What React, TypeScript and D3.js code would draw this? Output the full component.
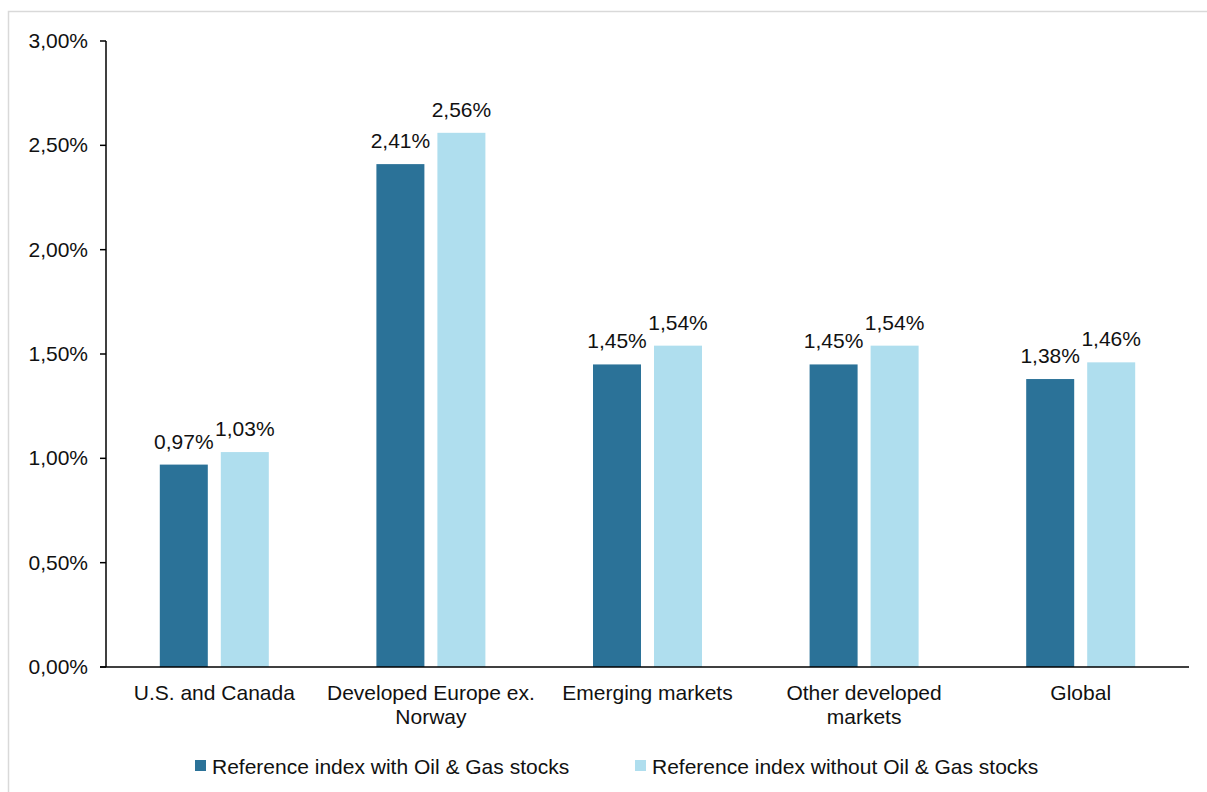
import React from "react";
import * as d3 from "d3";

const categories: string[][] = [
  ["U.S. and Canada"],
  ["Developed Europe ex.", "Norway"],
  ["Emerging markets"],
  ["Other developed", "markets"],
  ["Global"],
];
const withOilGas = [0.97, 2.41, 1.45, 1.45, 1.38];
const withoutOilGas = [1.03, 2.56, 1.54, 1.54, 1.46];
const seriesNames = [
  "Reference index with Oil & Gas stocks",
  "Reference index without Oil & Gas stocks",
];
const yTicks = [0, 0.5, 1, 1.5, 2, 2.5, 3];

const colors = ["#2b7298", "#afdeee"];
const font = "'Liberation Sans', Arial, sans-serif";

export default function App() {
  const width = 1207;
  const height = 792;
  const left = 106;
  const right = 1189;
  const top = 41;
  const bottom = 667;

  const x = d3
    .scaleBand<number>()
    .domain(d3.range(categories.length))
    .range([left, right]);
  const y = d3.scaleLinear().domain([0, 3]).range([bottom, top]);
  const fmt = (v: number) => v.toFixed(2).replace(".", ",") + "%";

  const barW = 48;
  const gap = 13;
  const series = [withOilGas, withoutOilGas];
  const fs = 21;

  return (
    <svg
      width={width}
      height={height}
      style={{ position: "absolute", left: 0, top: 0, fontFamily: font }}
    >
      <rect x={0} y={0} width={width} height={height} fill="#fff" />
      <rect
        x={8.5}
        y={11.5}
        width={width + 10}
        height={height + 10}
        fill="#fff"
        stroke="#d9d9d9"
        strokeWidth={1.5}
      />
      {/* bars */}
      {series.map((vals, si) =>
        vals.map((v, i) => {
          const cx = x(i)! + x.bandwidth() / 2;
          const bx = si === 0 ? cx - gap / 2 - barW : cx + gap / 2;
          return (
            <g key={`${si}-${i}`}>
              <rect
                x={bx}
                y={y(v)}
                width={barW}
                height={bottom - y(v)}
                fill={colors[si]}
              />
              <text
                x={bx + barW / 2}
                y={y(v) - 16}
                textAnchor="middle"
                fontSize={fs}
                fill="#111"
              >
                {fmt(v)}
              </text>
            </g>
          );
        })
      )}
      {/* y axis */}
      <line x1={left} x2={left} y1={top} y2={bottom} stroke="#000" strokeWidth={1.5} />
      {yTicks.map((t) => (
        <g key={t}>
          <line x1={left - 6} x2={left} y1={y(t)} y2={y(t)} stroke="#000" strokeWidth={1.5} />
          <text
            x={88}
            y={y(t) + 7}
            textAnchor="end"
            fontSize={fs}
            fill="#111"
          >
            {fmt(t)}
          </text>
        </g>
      ))}
      {/* x axis */}
      <line x1={left - 6} x2={right} y1={bottom} y2={bottom} stroke="#000" strokeWidth={1.5} />
      {categories.map((lines, i) => (
        <text
          key={i}
          x={x(i)! + x.bandwidth() / 2}
          textAnchor="middle"
          fontSize={fs}
          fill="#111"
        >
          {lines.map((l, j) => (
            <tspan key={j} x={x(i)! + x.bandwidth() / 2} y={700 + j * 24}>
              {l}
            </tspan>
          ))}
        </text>
      ))}
      {/* legend */}
      {seriesNames.map((name, si) => {
        const lx = si === 0 ? 195 : 635;
        return (
          <g key={name}>
            <rect x={lx} y={760} width={11} height={11} fill={colors[si]} />
            <text x={lx + 17} y={774} fontSize={fs} fill="#111">
              {name}
            </text>
          </g>
        );
      })}
    </svg>
  );
}
